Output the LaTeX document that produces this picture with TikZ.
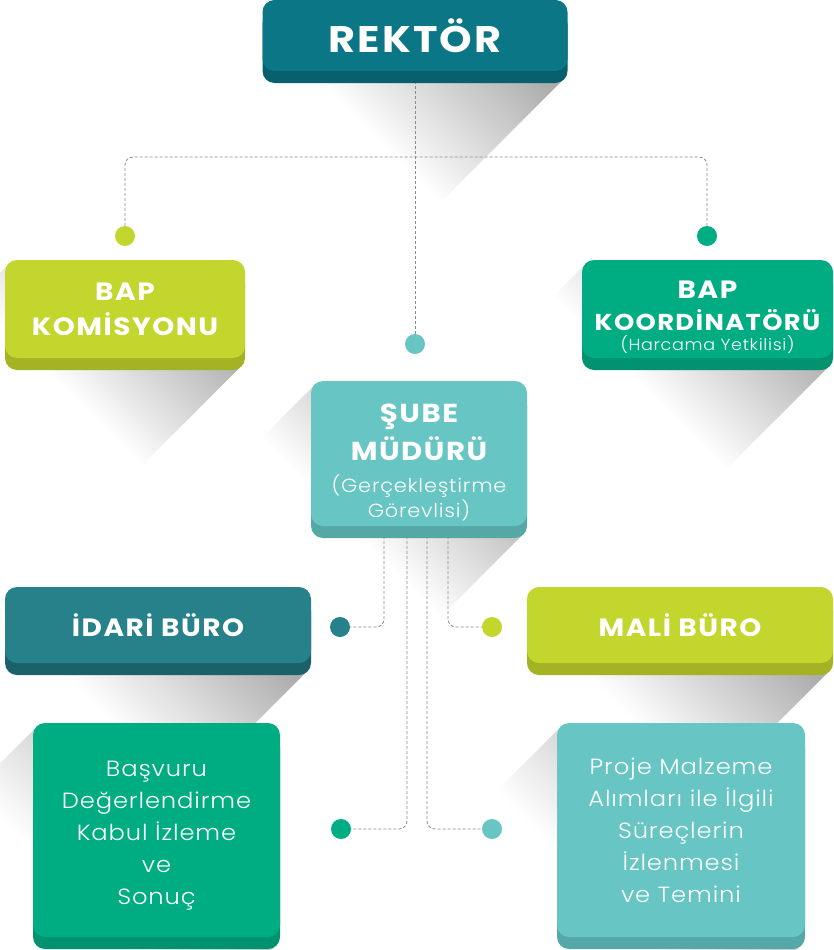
\documentclass[tikz,border=0pt]{standalone}
\usepackage{fontspec}
\newfontfamily\titlefont{Poppins Bold}[FakeStretch=1.12, LetterSpace=6]
\newfontfamily\bodyfont{Poppins Light}[FakeStretch=1.1, LetterSpace=4]
\newcommand\subline[2]{\bodyfont\fontsize{#1}{#2}\selectfont}
\newcommand\lift[1]{\rule{0pt}{#1}}
\usetikzlibrary{shadows,calc}

\definecolor{rektorcol}{HTML}{0B7686}
\definecolor{rektorlip}{HTML}{07606C}
\definecolor{limecol}{HTML}{C2D62E}
\definecolor{limelip}{HTML}{A3B324}
\definecolor{greencol}{HTML}{00AD83}
\definecolor{greenlip}{HTML}{01936F}
\definecolor{aquacol}{HTML}{67C6C4}
\definecolor{aqualip}{HTML}{55A8A6}
\definecolor{petrolcol}{HTML}{26818A}
\definecolor{petrollip}{HTML}{1B6169}

% fade of the long shadows
\pgfdeclareverticalshading{longfade}{100bp}{color(0bp)=(white); color(48bp)=(white);
  color(74bp)=(black!32); color(100bp)=(black!32)}

\pgfdeclarelayer{shade}
\pgfdeclarelayer{lines}
\pgfsetlayers{shade,lines,main}

\begin{document}
\begin{tikzpicture}[
    x=1pt, y=-1pt,
    box/.style={rectangle, rounded corners=12pt, inner sep=0pt, align=center, text=white},
    colbox/.style 2 args={box, fill=#1, general shadow={fill=#2, shadow yshift=-12pt}},
    title/.style={font=\titlefont\fontsize{25}{35}\selectfont},
    body/.style={font=\bodyfont\fontsize{22}{32}\selectfont},
    dot/.style={circle, inner sep=0pt, minimum size=20pt},
    link/.style={draw=gray!90, line width=0.8pt, dash pattern=on 3pt off 2pt, rounded corners=8pt},
    longshade/.style={shading=longfade, shading angle=-45}
]
\useasboundingbox (0,0) rectangle (833,950);

% boxes
\node[colbox={rektorcol}{rektorlip}, minimum width=305pt, minimum height=71pt,
      font=\titlefont\fontsize{37}{40}\selectfont] (rektor) at (415,35.5) {REKTÖR};
\node[colbox={limecol}{limelip}, title, minimum width=240pt, minimum height=98pt] (komisyon) at (125,309) {BAP\\KOMİSYONU};
\node[colbox={greencol}{greenlip}, minimum width=251pt, minimum height=98pt,
      font=\titlefont\fontsize{25}{32}\selectfont] (koord) at (707.5,309)
      {\lift{33.5pt}BAP\\\fontsize{23}{32}\selectfont KOORDİNATÖRÜ\\[-12pt]\subline{16}{20}(Harcama Yetkilisi)};
\node[colbox={aquacol}{aqualip}, minimum width=216pt, minimum height=145pt,
      font=\titlefont\fontsize{26}{38}\selectfont] (sube) at (419,453.5)
      {\lift{36.5pt}ŞUBE\\MÜDÜRÜ\\[-6pt]\subline{19}{25}(Gerçekleştirme\\[-13pt]\subline{19}{25}Görevlisi)};
\node[colbox={petrolcol}{petrollip}, title, minimum width=306pt, minimum height=76pt] (idari) at (158,625) {İDARİ BÜRO};
\node[colbox={limecol}{limelip}, title, minimum width=306pt, minimum height=76pt] (mali) at (680,625) {MALİ BÜRO};
\node[colbox={greencol}{greenlip}, body, minimum width=247pt, minimum height=214pt] (basvuru) at (156.5,830)
      {\lift{27pt}Başvuru\\Değerlendirme\\Kabul İzleme\\ve\\Sonuç};
\node[colbox={aquacol}{aqualip}, body, minimum width=248pt, minimum height=214pt] (proje) at (681,830)
      {Proje Malzeme\\Alımları ile İlgili\\Süreçlerin\\İzlenmesi\\ve Temini};

% dots
\node[dot, fill=limecol] (dKom) at (125,236) {};
\node[dot, fill=greencol] (dKoo) at (707,236) {};
\node[dot, fill=aquacol] (dSube) at (415,344) {};
\node[dot, fill=petrolcol] (dIdari) at (340,627) {};
\node[dot, fill=limecol] (dMali) at (492,627) {};
\node[dot, fill=greencol] (dBas) at (341,829) {};
\node[dot, fill=aquacol] (dPro) at (492,829) {};

% dashed connectors
\begin{pgfonlayer}{lines}
\coordinate (fork) at (415,157);
\coordinate (s1) at (384,526);
\coordinate (s2) at (407,526);
\coordinate (s3) at (427,526);
\coordinate (s4) at (448,526);
\draw[link] (rektor.south) -- (dSube);
\draw[link] (dKom) |- (fork) -| (dKoo);
\draw[link] (s1) |- (dIdari);
\draw[link] (s4) |- (dMali);
\draw[link] (s2) |- (dBas);
\draw[link] (s3) |- (dPro);
\end{pgfonlayer}

% long shadows
\begin{pgfonlayer}{shade}
\fill[white] (0,0) rectangle (833,950);
\foreach \b in {rektor,komisyon,koord,sube,idari,mali,basvuru,proje}
  \shade[longshade] ($(\b.north west)+(4,4)$) -- ($(\b.south east)+(-4,8)$)
    -- ($(\b.south east)+(-124,128)$) -- ($(\b.north west)+(-116,124)$) -- cycle;
\end{pgfonlayer}
\end{tikzpicture}
\end{document}
